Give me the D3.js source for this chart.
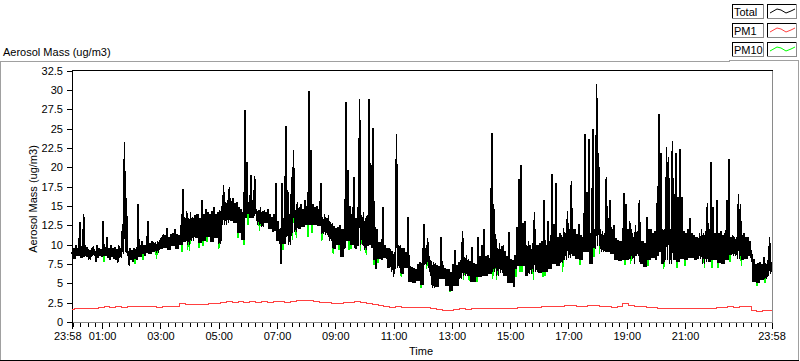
<!DOCTYPE html>
<html><head><meta charset="utf-8">
<script src="https://cdn.jsdelivr.net/npm/d3@7"></script>
<style>
html,body{margin:0;padding:0;background:#fff;overflow:hidden}
svg{display:block}
text{font-family:"Liberation Sans",Arial,sans-serif;font-size:11px;fill:#000}
</style>
</head><body><svg id="c" width="800" height="361"></svg>
<script>
// ---------------- data ----------------
const seriesNames = ["Total", "PM1", "PM10"];
const seriesColors = ["#000000", "#ff4040", "#00ff00"];
const yTitle = "Aerosol Mass (ug/m3)";
const xTitle = "Time";

// Total: one value every 2 minutes starting at 23:58 (one row = 80 minutes)
const totalStepMin = 2;
const total = [
9.0,8.2,9.6,8.2,10.0,8.5,9.5,8.5,12.9,8.3,9.8,8.3,13.9,8.4,9.9,8.4,9.7,8.0,9.3,8.0,9.5,8.6,9.8,8.6,9.2,7.8,9.9,8.3,9.5,8.6,9.4,8.4,13.1,8.5,9.7,8.5,11.0,8.3,9.6,8.0,
10.0,8.4,9.5,8.2,9.7,8.0,9.4,7.6,9.9,8.3,9.6,8.3,12.7,8.8,23.3,9.0,16.0,8.5,9.2,7.3,9.5,8.0,9.3,7.8,9.6,8.2,9.4,8.0,15.3,8.4,10.0,8.4,10.4,8.8,10.0,8.6,10.0,8.9,13.1,8.8,
10.2,8.8,10.5,9.0,10.3,9.0,10.3,8.9,10.4,8.9,10.6,9.4,11.0,9.4,11.3,9.6,11.2,9.6,12.2,9.3,11.0,9.3,11.4,9.8,11.5,9.8,12.0,9.5,11.3,9.5,11.2,10.0,12.5,10.0,17.2,10.3,13.5,10.3,14.4,9.9,
13.5,9.9,14.2,10.5,13.6,10.5,13.8,10.8,13.9,10.8,14.0,10.2,13.5,10.2,15.7,10.5,14.0,10.5,14.6,11.0,14.2,11.0,14.0,10.4,14.3,10.4,14.8,10.8,14.0,10.8,14.2,10.1,14.5,10.1,15.0,12.5,17.7,12.6,15.5,12.6,
15.8,12.8,17.5,13.0,15.6,13.0,16.0,12.8,15.4,12.8,15.5,11.5,14.8,11.5,14.6,10.6,14.2,10.6,27.4,13.5,20.7,14.0,15.5,13.4,19.0,13.5,15.8,13.5,18.8,14.0,14.6,12.6,14.5,12.6,14.8,12.3,14.3,12.3,14.5,12.8,
14.2,12.8,14.6,12.0,14.0,12.0,13.5,11.6,14.0,11.8,17.9,10.5,13.0,10.5,12.0,7.5,17.9,10.1,13.5,10.1,25.3,11.0,17.0,10.0,14.0,10.0,18.7,11.5,22.2,11.6,14.5,11.6,15.5,12.0,14.8,12.0,15.2,12.3,14.6,12.3,
15.7,12.5,15.0,12.5,29.8,12.5,22.2,12.5,15.2,12.6,14.8,12.6,15.0,12.4,14.6,12.4,17.9,11.4,13.5,11.4,13.9,11.2,13.4,11.2,13.8,10.5,12.9,10.5,12.8,9.5,12.4,9.5,12.2,10.0,12.3,10.0,12.5,8.4,12.0,8.4,
12.0,9.5,28.4,10.5,19.6,10.5,15.0,10.0,14.0,10.0,18.7,9.5,13.5,9.5,14.8,9.8,28.8,10.0,13.8,10.0,14.2,9.3,13.5,9.3,13.8,9.8,28.8,10.0,20.3,9.5,25.1,8.0,12.3,6.9,12.0,8.2,10.3,8.2,10.3,8.0,
14.9,8.3,10.0,8.3,9.6,7.0,9.5,7.0,9.4,6.5,9.2,5.8,9.0,6.8,24.3,7.0,10.0,7.0,10.0,6.2,9.6,6.2,9.5,7.0,9.0,7.0,13.6,5.2,7.2,5.2,7.1,5.0,7.0,5.0,6.9,5.3,7.5,5.3,7.8,4.8,
7.6,4.8,12.7,7.4,9.5,7.4,10.8,7.0,8.5,6.0,7.9,4.4,7.7,4.4,7.6,4.5,7.4,4.5,7.2,5.5,11.0,5.5,7.3,5.5,7.0,4.6,6.9,4.6,6.8,4.0,6.5,4.0,7.5,4.6,9.3,4.6,7.4,4.6,7.8,5.5,
8.0,5.5,11.8,6.0,8.4,6.0,8.6,5.9,8.2,5.9,7.9,5.2,9.7,5.2,7.6,5.2,7.5,5.8,11.0,5.8,8.5,5.8,9.9,6.0,12.0,6.0,8.5,6.0,8.7,6.2,8.3,6.2,24.4,6.5,15.3,6.5,11.4,6.0,9.5,6.0,
10.2,6.4,9.8,6.4,10.0,5.9,9.2,5.9,8.5,5.0,11.6,5.0,8.2,5.0,8.0,4.5,8.6,6.8,12.3,7.2,18.5,7.2,20.3,7.2,12.8,7.2,13.1,6.0,10.0,6.0,10.4,6.2,10.0,6.2,10.2,6.5,14.2,6.5,10.0,6.5,
10.0,6.3,10.2,6.3,10.4,6.5,15.7,6.5,10.0,6.5,13.1,6.8,10.5,6.8,19.1,7.5,12.7,7.5,18.0,7.3,11.0,7.3,11.5,7.6,11.2,7.6,12.2,8.0,11.5,8.0,14.3,8.3,12.0,8.3,18.2,8.5,12.0,8.5,12.0,8.2,
11.4,8.2,12.7,8.0,11.2,8.0,11.0,9.0,24.3,9.0,16.8,9.0,23.6,7.5,11.5,7.5,24.9,9.5,12.0,9.5,30.8,9.8,21.9,9.8,12.0,9.0,11.8,9.0,11.5,9.0,18.7,9.0,13.4,9.0,15.7,8.8,12.0,8.8,12.5,8.0,
10.8,8.0,10.6,7.9,10.4,7.9,10.5,8.0,16.7,8.0,15.3,8.0,12.0,8.0,13.0,8.2,12.0,8.2,11.0,7.5,12.5,8.5,11.8,8.5,15.7,7.5,10.5,7.5,10.5,7.1,10.2,7.1,13.6,8.0,12.0,8.0,12.0,8.3,11.5,8.3,
11.8,8.0,15.4,8.5,26.9,9.0,21.8,7.5,12.0,7.5,12.0,8.0,22.6,8.0,21.3,7.5,12.0,7.5,23.4,8.0,16.6,8.0,21.8,7.8,16.2,7.8,22.4,8.2,16.2,8.2,11.8,8.0,11.5,8.0,12.0,8.3,13.4,8.3,11.5,8.3,
11.3,8.0,11.0,8.0,11.0,8.2,11.5,8.2,12.0,7.5,11.5,7.5,11.8,7.8,15.4,7.8,12.0,7.8,20.7,8.0,14.9,8.0,11.5,8.0,15.7,7.6,11.5,7.6,11.8,7.5,11.2,7.5,11.5,8.0,15.7,8.0,21.1,8.6,11.0,8.6,
11.3,8.5,11.0,8.5,11.0,8.2,16.6,8.2,15.3,8.0,11.2,8.0,11.5,8.2,11.0,8.2,11.0,8.5,10.5,8.5,8.6,5.2,8.2,5.2,7.5,5.0,7.6,5.0,7.8,5.4,7.5,5.4,8.4,5.6,7.6,5.6,8.0,6.0,11.0,6.2,
7.8
];

// PM10: same sampling as Total
const pm10 = [
9.0,8.2,9.6,8.2,10.0,8.5,9.5,8.5,12.9,8.3,9.8,8.3,13.9,8.4,9.9,8.4,9.7,8.0,9.3,8.0,9.5,8.6,9.8,8.6,9.2,7.8,9.9,8.3,9.5,8.6,9.4,8.4,13.1,7.8,9.7,8.5,11.0,8.3,9.6,8.0,
10.0,8.4,9.5,8.2,9.7,8.0,9.4,7.6,9.9,8.3,9.6,8.3,12.7,8.8,23.3,9.0,16.0,8.5,9.2,7.3,9.5,8.0,9.3,7.8,9.6,7.5,9.4,8.0,15.3,8.4,10.0,8.4,10.4,8.0,10.0,8.6,10.0,8.9,13.1,8.8,
10.2,8.8,10.5,9.0,10.3,9.0,10.3,8.2,10.4,8.9,10.6,9.4,11.0,9.4,11.3,9.6,11.2,9.6,12.2,9.3,11.0,9.3,11.4,9.8,11.5,9.8,12.0,9.5,11.3,9.5,11.2,10.0,12.5,9.0,17.2,10.3,13.5,10.3,14.4,9.3,
13.5,9.2,14.2,10.5,13.6,10.5,13.8,10.8,13.9,10.8,14.0,9.6,13.5,10.2,15.7,9.8,14.0,10.5,14.6,10.3,14.2,11.0,14.0,10.4,14.3,10.4,14.8,10.8,14.0,10.8,14.2,9.5,14.5,10.1,15.0,12.5,17.7,12.6,15.5,12.6,
15.8,12.8,17.5,13.0,15.6,13.0,16.0,12.8,15.4,12.8,15.5,10.8,14.8,11.5,14.6,10.6,14.2,10.0,27.4,13.5,20.7,12.5,15.5,13.4,19.0,13.5,15.8,13.5,18.8,14.0,14.6,12.6,14.5,11.8,14.8,12.3,14.3,12.3,14.5,12.8,
14.2,12.8,14.6,12.0,14.0,12.0,13.5,11.6,14.0,11.8,17.9,10.5,13.0,10.5,12.0,7.5,17.9,9.3,13.5,10.1,25.3,11.0,17.0,10.0,14.0,10.0,18.7,10.6,22.2,11.6,14.5,10.8,15.5,12.0,14.8,12.0,15.2,12.3,14.6,12.3,
15.7,12.5,15.0,11.0,29.8,12.5,22.2,11.5,15.2,12.6,14.8,12.6,15.0,12.4,14.6,12.4,17.9,10.5,13.5,11.4,13.9,11.2,13.4,11.2,13.8,10.5,12.9,10.5,12.8,8.8,12.4,9.5,12.2,10.0,12.3,9.3,12.5,8.4,12.0,8.4,
12.0,9.5,28.4,10.5,19.6,9.3,15.0,9.4,14.0,10.0,18.7,9.5,13.5,9.5,14.8,9.8,28.8,9.2,13.8,10.0,14.2,9.3,13.5,8.6,13.8,9.8,28.8,10.0,20.3,9.5,25.1,7.4,12.3,6.9,12.0,7.6,10.3,8.2,10.3,8.0,
14.9,8.3,10.0,8.3,9.6,7.0,9.5,7.0,9.4,6.5,9.2,5.8,9.0,6.8,24.3,7.0,10.0,7.0,10.0,5.8,9.6,6.2,9.5,7.0,9.0,7.0,13.6,5.2,7.2,5.2,7.1,5.0,7.0,5.0,6.9,5.3,7.5,5.3,7.8,4.4,
7.6,4.8,12.7,7.4,9.5,6.8,10.8,7.0,8.5,6.0,7.9,4.4,7.7,4.4,7.6,4.5,7.4,4.5,7.2,5.5,11.0,5.5,7.3,5.5,7.0,4.6,6.9,4.6,6.8,3.9,6.5,4.0,7.5,4.6,9.3,4.6,7.4,4.6,7.8,5.5,
8.0,5.5,11.8,5.4,8.4,6.0,8.6,5.9,8.2,5.3,7.9,5.2,9.7,5.2,7.6,5.2,7.5,5.2,11.0,5.8,8.5,5.8,9.9,6.0,12.0,6.0,8.5,6.0,8.7,6.2,8.3,6.2,24.4,5.5,15.3,6.5,11.4,5.4,9.5,6.0,
10.2,6.4,9.8,6.4,10.0,5.9,9.2,5.9,8.5,5.0,11.6,5.0,8.2,5.0,8.0,4.5,8.6,5.8,12.3,7.2,18.5,6.5,20.3,6.4,12.8,7.2,13.1,6.0,10.0,6.0,10.4,6.2,10.0,6.2,10.2,5.4,14.2,6.5,10.0,6.5,
10.0,6.3,10.2,6.3,10.4,5.8,15.7,6.0,10.0,6.5,13.1,6.8,10.5,6.8,19.1,7.5,12.7,7.5,18.0,7.3,11.0,7.3,11.5,7.6,11.2,6.5,12.2,8.0,11.5,8.0,14.3,8.3,12.0,8.3,18.2,8.5,12.0,8.5,12.0,8.2,
11.4,8.2,12.7,7.4,11.2,8.0,11.0,9.0,24.3,9.0,16.8,9.0,23.6,7.5,11.5,7.5,24.9,8.4,12.0,9.5,30.8,9.8,21.9,8.8,12.0,9.0,11.8,9.0,11.5,9.0,18.7,9.0,13.4,9.0,15.7,8.8,12.0,8.8,12.5,8.0,
10.8,8.0,10.6,7.9,10.4,7.9,10.5,8.0,16.7,7.4,15.3,8.0,12.0,8.0,13.0,7.5,12.0,8.2,11.0,7.5,12.5,8.5,11.8,8.5,15.7,7.5,10.5,7.5,10.5,7.1,10.2,7.1,13.6,7.3,12.0,8.0,12.0,8.3,11.5,8.3,
11.8,8.0,15.4,8.5,26.9,9.0,21.8,7.5,12.0,6.8,12.0,8.0,22.6,8.0,21.3,7.5,12.0,7.5,23.4,8.0,16.6,8.0,21.8,7.0,16.2,7.8,22.4,8.2,16.2,8.2,11.8,7.2,11.5,8.0,12.0,8.3,13.4,8.3,11.5,8.3,
11.3,8.0,11.0,8.0,11.0,8.2,11.5,8.2,12.0,7.5,11.5,7.0,11.8,7.8,15.4,7.8,12.0,7.8,20.7,7.0,14.9,8.0,11.5,8.0,15.7,7.0,11.5,7.6,11.8,7.5,11.2,7.5,11.5,8.0,15.7,8.0,21.1,7.8,11.0,8.6,
11.3,8.5,11.0,8.5,11.0,8.2,16.6,8.2,15.3,7.3,11.2,8.0,11.5,8.2,11.0,8.2,11.0,8.5,10.5,8.5,8.6,5.2,8.2,5.2,7.5,4.7,7.6,5.0,7.8,5.4,7.5,5.4,8.4,5.0,7.6,5.6,8.0,6.0,11.0,6.2,
7.8
];

// PM1: one value every 12 minutes starting at 23:58
const pm1StepMin = 12;
const pm1 = [
1.65,1.72,1.70,1.78,1.75,1.85,1.95,1.90,1.98,1.92,2.00,1.97,2.02,1.95,1.98,1.93,1.97,1.95,2.05,2.40,
2.30,2.25,2.20,2.28,2.35,2.40,2.55,2.60,2.58,2.62,2.55,2.60,2.58,2.62,2.55,2.60,2.65,2.58,2.70,2.75,
2.80,2.72,2.65,2.55,2.50,2.40,2.45,2.50,2.58,2.62,2.55,2.45,2.30,2.15,2.05,1.92,1.95,1.88,1.85,1.83,
1.88,1.85,1.72,1.60,1.45,1.50,1.62,1.70,1.65,1.72,1.70,1.68,1.72,1.75,1.70,1.78,1.80,1.82,1.85,1.83,
1.90,1.95,1.98,2.02,2.05,2.10,2.08,2.05,2.05,2.12,2.10,1.95,1.97,1.92,2.05,2.40,2.10,1.98,1.95,1.90,
1.85,1.78,1.72,1.70,1.75,1.72,1.70,1.75,1.72,1.78,1.80,1.85,1.90,1.95,1.93,1.97,1.95,1.45,1.42,1.45,1.55
];

const yTicks = [0,2.5,5,7.5,10,12.5,15,17.5,20,22.5,25,27.5,30,32.5];
const xTickLabels = ["23:58","01:00","03:00","05:00","07:00","09:00","11:00","13:00","15:00","17:00","19:00","21:00","23:58"];
const xTickMinutes = [0,62,182,302,422,542,662,782,902,1022,1142,1262,1440]; // minutes after 23:58
const spanMinutes = 1440;
const minorStepMin = 15;
const minorFirstMin = 2; // 00:00

// ---------------- chart ----------------
const svg = d3.select("#c");
const x = d3.scaleLinear().domain([0, spanMinutes]).range([72, 771.5]);
const y = d3.scaleLinear().domain([0, 32.5]).range([322, 70.5]);

// outer frame
const frame = svg.append("g").attr("shape-rendering","crispEdges").attr("stroke-width",1).attr("fill","none");
frame.append("path").attr("d","M0.5,361V61.5H729.5V60.5H798.5V361").attr("stroke","#a0a0a0");
frame.append("path").attr("d","M0,360.5H799").attr("stroke","#000");

// title
svg.append("text").attr("x",3).attr("y",56).text(yTitle);

// plot frame
frame.append("path").attr("d","M772.5,70.5V322.5H72").attr("stroke","#8a8a8a");
frame.append("path").attr("d","M72.5,322.5V70.5H772.5").attr("stroke","#000");

// data lines
const plot = svg.append("g");
const lineTot = d3.line().x((d,i)=>x(i*totalStepMin)).y(d=>y(d));
const linePm1 = d3.line().curve(d3.curveStep).x((d,i)=>x(i*pm1StepMin)).y(d=>y(d));
plot.append("path").datum(pm10).attr("d",lineTot).attr("fill","none").attr("stroke",seriesColors[2]).attr("stroke-width",1.6).attr("shape-rendering","crispEdges");
plot.append("path").datum(pm1).attr("d",linePm1).attr("fill","none").attr("stroke",seriesColors[1]).attr("stroke-width",1).attr("shape-rendering","crispEdges");
plot.append("path").datum(total).attr("d",lineTot).attr("fill","none").attr("stroke",seriesColors[0]).attr("stroke-width",1.6).attr("shape-rendering","crispEdges");

// y axis
const gy = svg.append("g").attr("transform","translate(72,0)")
  .call(d3.axisLeft(y).tickValues(yTicks).tickSize(5).tickPadding(4).tickFormat(d=>String(d)));
gy.select(".domain").remove();
gy.selectAll("line").attr("shape-rendering","crispEdges");
gy.selectAll("text").style("font-family",'"Liberation Sans",Arial,sans-serif').style("font-size","11px");

svg.append("text").attr("transform","translate(37,199) rotate(-90)").attr("text-anchor","middle").text(yTitle);

// x axis minor ticks
const minor = d3.range(minorFirstMin, spanMinutes, minorStepMin);
const gxm = svg.append("g").attr("transform","translate(0,323)")
  .call(d3.axisBottom(x).tickValues(minor).tickSize(4).tickFormat(""));
gxm.select(".domain").remove();
gxm.selectAll("line").attr("shape-rendering","crispEdges");

// x axis major ticks + labels
const gx = svg.append("g").attr("transform","translate(0,323)")
  .call(d3.axisBottom(x).tickValues(xTickMinutes).tickSize(6).tickPadding(3).tickFormat((d,i)=>xTickLabels[i]));
gx.select(".domain").remove();
gx.selectAll("line").attr("shape-rendering","crispEdges");
gx.selectAll("text").style("font-family",'"Liberation Sans",Arial,sans-serif').style("font-size","11px");
gx.selectAll(".tick").filter((d,i)=>i===0).select("text").attr("text-anchor","end").attr("x",9);

svg.append("text").attr("x",421).attr("y",355).attr("text-anchor","middle").text(xTitle);

// legend
const leg = svg.append("g").attr("shape-rendering","crispEdges");
seriesNames.forEach((name,i)=>{
  const top = 4 + i*19;
  const g = leg.append("g").attr("transform",`translate(0,${top})`);
  g.append("rect").attr("x",732.5).attr("y",0.5).attr("width",31).attr("height",14).attr("fill","#fff").attr("stroke","#8a8a8a");
  g.append("path").attr("d","M732.5,14V0.5H763").attr("stroke","#000").attr("fill","none");
  g.append("text").attr("x",734).attr("y",12).text(name);
  g.append("rect").attr("x",767.5).attr("y",0.5).attr("width",29).attr("height",14).attr("fill","#fff").attr("stroke","#8a8a8a");
  g.append("path").attr("d","M767.5,14V0.5H796").attr("stroke","#000").attr("fill","none");
  g.append("path").attr("d","M770,9L777,5L781,6L786,9L791,7L795,5")
    .attr("fill","none").attr("stroke",seriesColors[i]).attr("stroke-width",1).attr("shape-rendering","auto");
});
</script>
</body></html>
